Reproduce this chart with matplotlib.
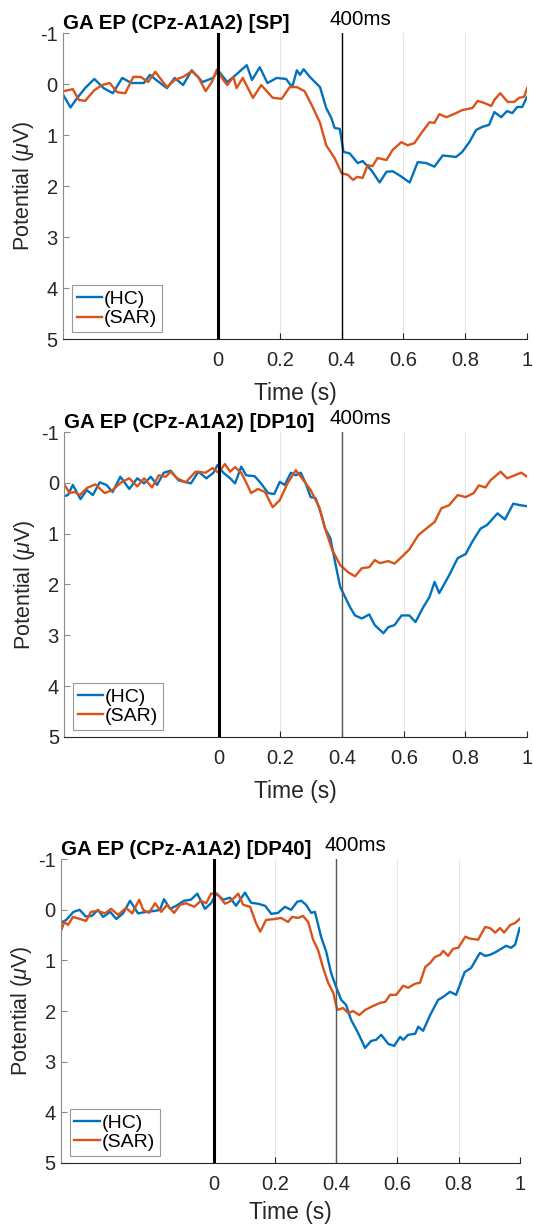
import numpy as np
import matplotlib
matplotlib.use("Agg")
from matplotlib import pyplot as plt

plt.rcParams['font.family'] = ['Liberation Sans', 'DejaVu Sans']
plt.rcParams['mathtext.fontset'] = 'custom'
plt.rcParams['mathtext.rm'] = 'Liberation Sans'
plt.rcParams['mathtext.it'] = 'Liberation Sans:italic'
plt.rcParams['axes.unicode_minus'] = False

# MATLAB default line colours
C_HC = '#0072BD'
C_SAR = '#D95319'

titles = ['GA EP (CPz-A1A2) [SP]', 'GA EP (CPz-A1A2) [DP10]', 'GA EP (CPz-A1A2) [DP40]']
marker_label = '400ms'
marker_t = 0.4
legend_labels = ['(HC)', '(SAR)']
x_ticks = [0, 0.2, 0.4, 0.6, 0.8, 1]
y_ticks = [-1, 0, 1, 2, 3, 4, 5]

# ---- panel 1 : SP ----
t_sp_hc = [-0.5, -0.477, -0.46, -0.43, -0.40, -0.37, -0.34, -0.31, -0.28, -0.24, -0.22, -0.2,
           -0.165, -0.14, -0.113, -0.085, -0.05, -0.016, 0.0, 0.03, 0.05, 0.093, 0.11, 0.135,
           0.16, 0.19, 0.22, 0.24, 0.255, 0.265, 0.277, 0.297, 0.33, 0.35, 0.367, 0.377, 0.394,
           0.406, 0.426, 0.452, 0.468, 0.496, 0.523, 0.545, 0.565, 0.587, 0.62, 0.646, 0.674,
           0.70, 0.727, 0.77, 0.79, 0.813, 0.835, 0.855, 0.877, 0.894, 0.916, 0.935, 0.952,
           0.968, 0.984, 1.0]
v_sp_hc = [0.22, 0.46, 0.31, 0.08, -0.1, 0.08, 0.18, -0.12, -0.02, -0.02, -0.18, -0.08,
           0.08, -0.12, 0.02, -0.27, -0.04, -0.12, -0.27, -0.04, -0.14, -0.37, -0.08, -0.33,
           -0.02, -0.12, -0.1, 0.06, -0.27, -0.18, -0.29, -0.14, 0.06, 0.47, 0.67, 0.86, 0.88,
           1.33, 1.36, 1.55, 1.51, 1.69, 1.93, 1.72, 1.71, 1.79, 1.93, 1.53, 1.55,
           1.62, 1.40, 1.43, 1.33, 1.14, 0.90, 0.84, 0.80, 0.55, 0.65, 0.53, 0.57,
           0.45, 0.45, 0.25]
t_sp_sar = [-0.5, -0.47, -0.45, -0.43, -0.40, -0.375, -0.35, -0.326, -0.30, -0.274, -0.25,
            -0.226, -0.203, -0.165, -0.14, -0.113, -0.085, -0.064, -0.04, -0.02, -0.003, 0.017,
            0.03, 0.05, 0.06, 0.08, 0.113, 0.14, 0.177, 0.206, 0.232, 0.255, 0.28, 0.303, 0.33,
            0.35, 0.377, 0.4, 0.42, 0.437, 0.45, 0.468, 0.484, 0.5, 0.516, 0.545, 0.565, 0.593,
            0.613, 0.635, 0.658, 0.684, 0.70, 0.716, 0.739, 0.77, 0.79, 0.823, 0.84, 0.861,
            0.884, 0.894, 0.913, 0.937, 0.958, 0.974, 0.99, 1.0]
v_sp_sar = [0.14, 0.1, 0.31, 0.33, 0.12, 0.02, -0.02, 0.16, 0.18, -0.14, -0.14,
            -0.04, -0.24, 0.06, -0.08, -0.14, -0.25, -0.14, 0.14, -0.04, -0.29, -0.08,
            0.02, -0.14, 0.08, -0.12, 0.27, 0.02, 0.27, 0.29, 0.06, 0.06, 0.14, 0.41, 0.76,
            1.2, 1.45, 1.75, 1.78, 1.88, 1.82, 1.84, 1.59, 1.61, 1.45, 1.49, 1.29, 1.14,
            1.2, 1.16, 0.96, 0.75, 0.76, 0.59, 0.65, 0.57, 0.51, 0.47, 0.33, 0.37,
            0.43, 0.31, 0.18, 0.35, 0.35, 0.27, 0.25, 0.08]

# ---- panel 2 : DP10 ----
t_dp10_hc = [-0.5, -0.489, -0.473, -0.448, -0.428, -0.408, -0.386, -0.364, -0.344, -0.319,
             -0.29, -0.264, -0.242, -0.22, -0.2, -0.178, -0.156, -0.13, -0.09, -0.066, -0.04,
             -0.017, -0.004, 0.015, 0.037, 0.053, 0.073, 0.089, 0.117, 0.137, 0.16, 0.18,
             0.198, 0.214, 0.234, 0.25, 0.266, 0.282, 0.298, 0.314, 0.33, 0.345, 0.362, 0.378,
             0.394, 0.41, 0.426, 0.442, 0.464, 0.488, 0.506, 0.534, 0.55, 0.57, 0.593, 0.618,
             0.638, 0.663, 0.683, 0.7, 0.715, 0.747, 0.775, 0.801, 0.822, 0.849, 0.87, 0.904,
             0.928, 0.955, 0.978, 1.0]
v_dp10_hc = [0.26, 0.24, 0.04, 0.32, 0.14, 0.24, -0.01, 0.04, 0.18, -0.12,
             0.12, -0.09, 0.01, -0.12, 0.04, -0.2, -0.24, -0.05, 0.01, -0.22, -0.09,
             -0.2, -0.35, -0.2, -0.09, 0.01, -0.32, -0.15, -0.13, 0.01, 0.2, 0.22,
             -0.02, 0.04, -0.2, -0.15, -0.2, 0.01, 0.28, 0.3, 0.57, 0.9, 1.09, 1.58,
             2.05, 2.25, 2.45, 2.61, 2.67, 2.59, 2.8, 2.96, 2.84, 2.8, 2.61, 2.61,
             2.74, 2.45, 2.25, 1.95, 2.17, 1.82, 1.48, 1.4, 1.16, 0.9, 0.83, 0.6,
             0.72, 0.41, 0.44, 0.46]
t_dp10_sar = [-0.5, -0.483, -0.467, -0.45, -0.427, -0.4, -0.37, -0.344, -0.316, -0.29, -0.264,
              -0.242, -0.216, -0.194, -0.172, -0.156, -0.135, -0.107, -0.075, -0.043, -0.02,
              -0.001, 0.02, 0.037, 0.053, 0.073, 0.089, 0.105, 0.127, 0.15, 0.175, 0.198,
              0.223, 0.25, 0.27, 0.298, 0.326, 0.345, 0.368, 0.394, 0.42, 0.442, 0.464, 0.488,
              0.506, 0.522, 0.55, 0.57, 0.593, 0.618, 0.647, 0.673, 0.7, 0.722, 0.747, 0.775,
              0.801, 0.827, 0.843, 0.865, 0.881, 0.914, 0.935, 0.96, 0.981, 1.0]
v_dp10_sar = [0.04, 0.2, 0.18, 0.24, 0.1, 0.03, 0.2, 0.14, -0.01, -0.09, 0.07,
              -0.09, 0.09, -0.15, -0.12, -0.22, -0.09, -0.01, -0.22, -0.2, -0.29,
              -0.2, -0.37, -0.22, -0.31, -0.2, -0.01, 0.2, 0.12, 0.18, 0.48, 0.34,
              0.01, -0.25, -0.09, 0.14, 0.48, 0.9, 1.32, 1.62, 1.76, 1.84, 1.68, 1.66,
              1.52, 1.58, 1.54, 1.59, 1.46, 1.31, 1.03, 0.9, 0.77, 0.5, 0.44, 0.24,
              0.28, 0.2, 0.05, 0.09, -0.05, -0.22, -0.09, -0.15, -0.2, -0.12]

# ---- panel 3 : DP40 ----
t_dp40_hc = [-0.5, -0.484, -0.46, -0.44, -0.42, -0.4, -0.38, -0.363, -0.34, -0.32, -0.298,
             -0.275, -0.249, -0.222, -0.193, -0.177, -0.164, -0.144, -0.124, -0.098, -0.076,
             -0.055, -0.03, -0.01, 0.007, 0.03, 0.052, 0.072, 0.101, 0.121, 0.144, 0.167,
             0.187, 0.209, 0.232, 0.252, 0.272, 0.285, 0.301, 0.318, 0.33, 0.35, 0.367, 0.383,
             0.399, 0.416, 0.432, 0.448, 0.471, 0.494, 0.514, 0.53, 0.547, 0.57, 0.589, 0.609,
             0.619, 0.635, 0.658, 0.668, 0.684, 0.707, 0.733, 0.75, 0.772, 0.792, 0.82, 0.841,
             0.87, 0.887, 0.903, 0.923, 0.956, 0.972, 0.985, 1.0]
v_dp40_hc = [0.25, 0.2, 0.04, 0.0, 0.13, 0.12, 0.0, 0.14, 0.04, 0.18, 0.07,
             -0.18, 0.07, 0.04, 0.02, 0.0, -0.21, -0.02, -0.08, -0.18, -0.2,
             -0.32, -0.02, -0.13, -0.32, -0.2, -0.24, -0.08, -0.34, -0.14, -0.12, -0.08,
             0.08, 0.06, -0.06, 0.0, -0.16, -0.18, -0.1, 0.06, 0.04, 0.53, 0.83, 1.25,
             1.52, 1.78, 1.88, 2.17, 2.43, 2.73, 2.59, 2.57, 2.47, 2.65, 2.69, 2.51,
             2.57, 2.47, 2.45, 2.31, 2.39, 2.08, 1.78, 1.72, 1.62, 1.68, 1.23, 1.15,
             0.85, 0.91, 0.89, 0.83, 0.71, 0.75, 0.69, 0.36]
t_dp40_sar = [-0.5, -0.49, -0.478, -0.462, -0.439, -0.419, -0.403, -0.38, -0.357, -0.337,
              -0.314, -0.288, -0.268, -0.245, -0.232, -0.213, -0.193, -0.173, -0.154, -0.131,
              -0.111, -0.092, -0.065, -0.043, -0.026, -0.01, 0.01, 0.036, 0.056, 0.079, 0.095,
              0.118, 0.137, 0.151, 0.17, 0.2, 0.219, 0.242, 0.255, 0.275, 0.291, 0.308, 0.324,
              0.34, 0.357, 0.373, 0.39, 0.403, 0.422, 0.439, 0.455, 0.475, 0.494, 0.52, 0.543,
              0.56, 0.576, 0.596, 0.619, 0.635, 0.658, 0.674, 0.691, 0.707, 0.723, 0.74, 0.75,
              0.766, 0.782, 0.799, 0.822, 0.838, 0.864, 0.887, 0.903, 0.92, 0.936, 0.949,
              0.969, 0.985, 1.0]
v_dp40_sar = [0.4, 0.24, 0.3, 0.14, 0.18, 0.22, 0.04, 0.02, 0.07, -0.02,
              0.1, -0.04, 0.07, -0.2, 0.0, 0.06, -0.13, 0.04, -0.1, 0.06,
              -0.1, -0.13, -0.06, -0.18, -0.13, -0.32, -0.32, -0.12, -0.18, -0.32, -0.1,
              -0.06, 0.26, 0.43, 0.2, 0.18, 0.16, 0.24, 0.14, 0.16, 0.12, 0.24, 0.59,
              0.79, 1.15, 1.44, 1.64, 1.98, 1.94, 2.04, 2.0, 2.08, 1.98, 1.9, 1.84,
              1.82, 1.68, 1.68, 1.5, 1.54, 1.46, 1.44, 1.13, 1.05, 0.93, 0.89, 0.81,
              0.91, 0.77, 0.75, 0.53, 0.57, 0.59, 0.34, 0.36, 0.45, 0.36, 0.45,
              0.3, 0.26, 0.18]

panels = [
    (t_sp_hc, v_sp_hc, t_sp_sar, v_sp_sar),
    (t_dp10_hc, v_dp10_hc, t_dp10_sar, v_dp10_sar),
    (t_dp40_hc, v_dp40_hc, t_dp40_sar, v_dp40_sar),
]
# axes boxes in figure fractions [left, bottom, width, height]
boxes = [
    [0.119, 0.723, 0.870, 0.250],
    [0.121, 0.398, 0.868, 0.249],
    [0.115, 0.050, 0.860, 0.248],
]
xlabel_pads = [9, 9, 5]
marker_colors = ['black', '0.35', '0.35']

fig = plt.figure(figsize=(5.33, 12.24), dpi=100)
dark = '0.15'

for i, (th, vh, ts, vs) in enumerate(panels):
    ax = fig.add_axes(boxes[i])
    ax.plot(th, vh, color=C_HC, lw=1.7, label=legend_labels[0])
    ax.plot(ts, vs, color=C_SAR, lw=1.7, label=legend_labels[1])
    ax.axvline(0, color='black', lw=2.2, zorder=3)
    ax.axvline(marker_t, color=marker_colors[i], lw=1.0, zorder=3)

    ax.set_xlim(-0.5, 1)
    ax.set_ylim(5, -1)
    ax.set_xticks(x_ticks)
    ax.set_xticklabels(['0', '0.2', '0.4', '0.6', '0.8', '1'])
    ax.set_yticks(y_ticks)
    ax.grid(axis='x', color='0.9', lw=0.8)
    ax.set_axisbelow(True)
    for s in ['top', 'right']:
        ax.spines[s].set_visible(False)
    ax.spines['left'].set_color('0.55')
    ax.spines['bottom'].set_color(dark)
    ax.tick_params(direction='in', length=4, width=0.8, colors=dark,
                   labelsize=14.5, pad=8.5)
    ax.tick_params(axis='y', pad=4, colors='0.55', labelcolor=dark)

    ax.set_xlabel('Time (s)', fontsize=16.5, color=dark, labelpad=xlabel_pads[i])
    ax.set_ylabel(r'Potential ($\mu$V)', fontsize=15.5, color=dark, labelpad=3)
    ax.set_title(titles[i], loc='left', fontsize=14.8, fontweight='bold', pad=3)
    ax.annotate(marker_label, xy=(0.36, 1), xycoords=('data', 'axes fraction'),
                xytext=(0, 3), textcoords='offset points', fontsize=14.8,
                va='bottom', ha='left')

    leg = ax.legend(loc='lower left', bbox_to_anchor=(0.018, 0.022), borderaxespad=0,
                    fontsize=14, handlelength=1.3, handletextpad=0.1, labelspacing=0.1,
                    borderpad=0.25, fancybox=False, framealpha=1, edgecolor='0.6')
    leg.get_frame().set_linewidth(0.8)

fig.savefig('out.png', dpi=100)
